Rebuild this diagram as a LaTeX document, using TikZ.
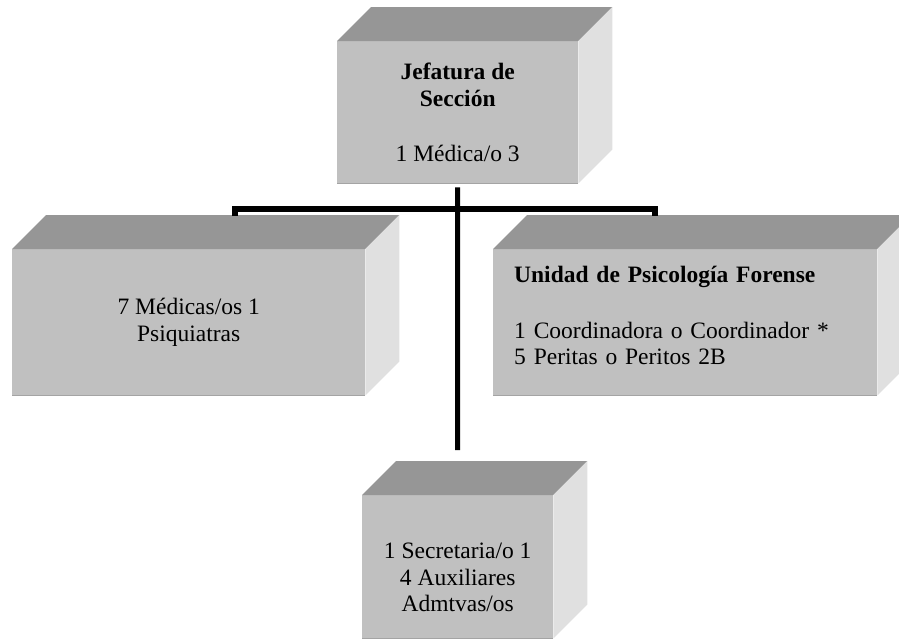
\documentclass[tikz,border=0pt]{standalone}
\usepackage{fontspec}
\setmainfont{Liberation Serif}
\definecolor{frente}{HTML}{C0C0C0}
\definecolor{tapa}{HTML}{969696}
\definecolor{lado}{HTML}{E0E0E0}
\definecolor{borde}{HTML}{A4A4A4}

\begin{document}
\begin{tikzpicture}[x=1pt, y=-1pt,
	caja/.style={fill=frente, anchor=north west, inner sep=0pt, align=center,
		font=\fontsize{23.5}{26.5}\selectfont},
	linea/.style={line width=5pt, line join=miter}]
		
		% Area
		\useasboundingbox (0,0) rectangle (899,638);
		\clip (0,0) rectangle (899,638);
		
		% Boxes (front faces)
		\node[caja, minimum width=241pt, minimum height=142pt] (jefe) at (337,41)
			{\textbf{Jefatura de}\\\textbf{Sección}\\[28.5pt]1 Médica/o 3};
		\node[caja, minimum width=353pt, minimum height=146pt] (medicos) at (12,249)
			{7 Médicas/os 1\\Psiquiatras};
		\node[caja, align=left, text width=342pt, inner xsep=21pt, minimum height=146pt] (psico) at (493,249)
			{\textbf{Unidad de Psicología Forense}\\[29.5pt]1 Coordinadora o Coordinador *\\5 Peritas o Peritos 2B\rule[-14pt]{0pt}{14pt}};
		\node[caja, minimum width=191pt, minimum height=143pt] (secre) at (362,495)
			{\rule{0pt}{37pt}1 Secretaria/o 1\\4 Auxiliares\\Admtvas/os};
		
		% Top and side faces
		\foreach \n in {jefe, medicos, psico, secre} {
			\fill[tapa] (\n.north west) -- ++(34,-34) -- ([shift={(34,-34)}]\n.north east)
				-- (\n.north east) -- cycle;
			\fill[lado] (\n.north east) -- ++(34,-34) -- ([shift={(34,-34)}]\n.south east)
				-- (\n.south east) -- cycle;
			\draw[borde, line width=1.5pt] (\n.south west) -- (\n.south east);
			\draw[white!92!black, line width=1pt] (\n.north east) -- (\n.south east);
		}
		
		% Lines
		\coordinate (izq) at (235,216);
		\coordinate (der) at (655,216);
		\coordinate (fin) at (457.5,450);
		\draw[linea, line width=6pt] (izq) -- ++(0,-7) -- ++(420,0) -- (der);
		\draw[linea] ([yshift=-4pt]jefe.south) -- (fin);
		
	\end{tikzpicture}
\end{document}
